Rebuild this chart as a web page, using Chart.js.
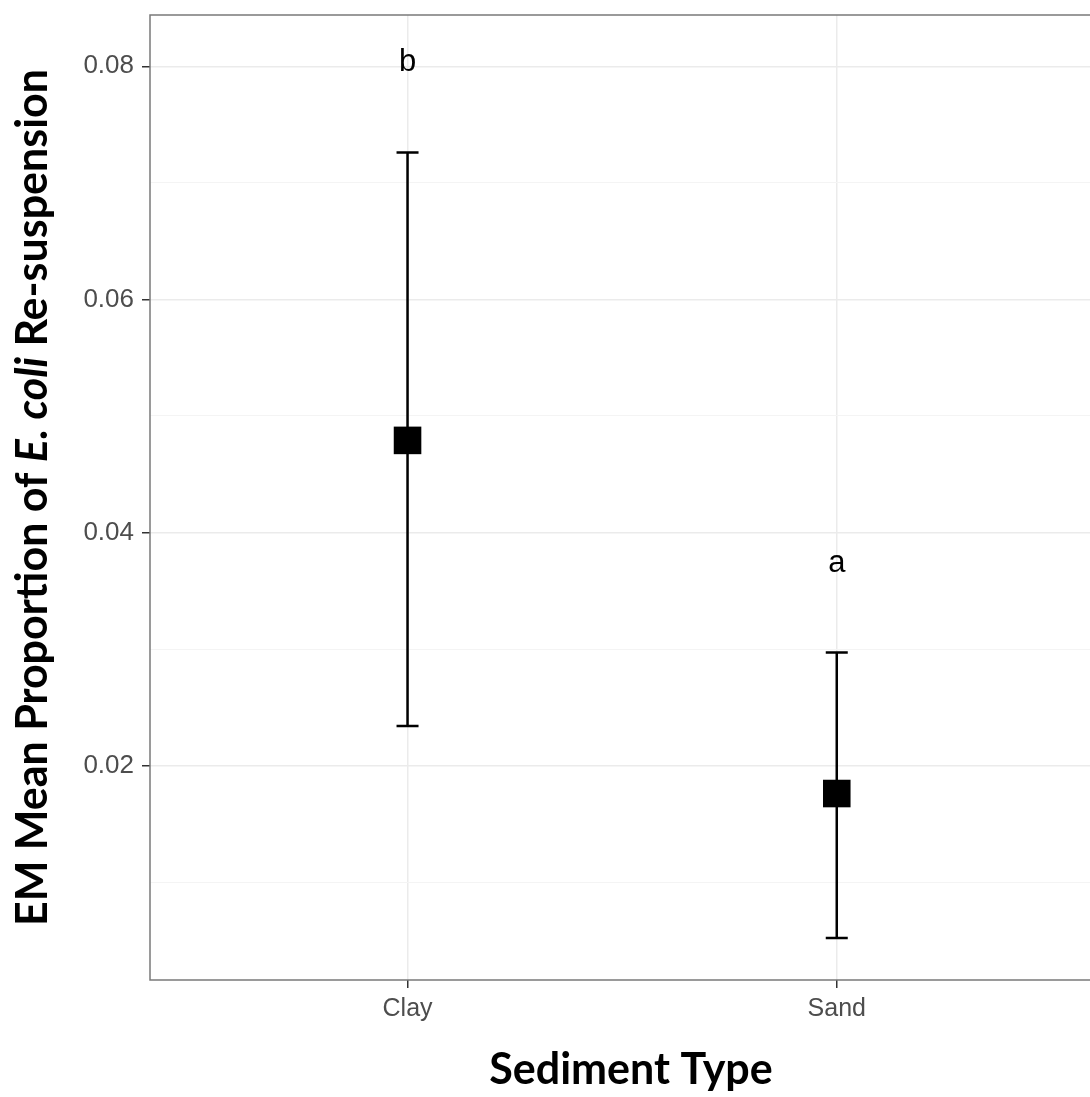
<!DOCTYPE html>
<html>
<head>
<meta charset="utf-8">
<script src="https://cdn.jsdelivr.net/npm/chart.js@4.4.1/dist/chart.umd.min.js"></script>
<style>
  html, body { margin: 0; padding: 0; background: #fff; }
  canvas { display: block; }
</style>
</head>
<body>
<canvas id="myChart" width="1090" height="1097"></canvas>
<script>
// values
const categories = ['Clay', 'Sand'];
const means = [0.0479, 0.0176];
const upper = [0.0726, 0.0297];
const lower = [0.0234, 0.0052];
const letters = ['b', 'a'];
const letterY = [0.0803, 0.0373];
const yMajor = [0.02, 0.04, 0.06, 0.08];
const yGrid = [0.01, 0.02, 0.03, 0.04, 0.05, 0.06, 0.07, 0.08];
const yTitleParts = [['EM Mean Proportion of ', ''], ['E. coli', 'italic '], [' Re-suspension', '']];
const xTitle = 'Sediment Type';

const isMajor = v => yMajor.some(m => Math.abs(m - v) < 1e-9);
const noPad = s => { s.paddingTop = 0; s.paddingBottom = 0; s.paddingLeft = 0; s.paddingRight = 0; };

// panel border (left, top, bottom), error bars and letters
const extras = {
    id: 'extras',
    beforeDatasetsDraw(chart) {
        const { ctx, scales: { x, y } } = chart;
        ctx.save();
        ctx.strokeStyle = '#000';
        ctx.lineWidth = 2.5;
        categories.forEach((c, i) => {
            const px = x.getPixelForValue(i + 1);
            const top = y.getPixelForValue(upper[i]);
            const bot = y.getPixelForValue(lower[i]);
            ctx.beginPath();
            ctx.moveTo(px, top); ctx.lineTo(px, bot);
            ctx.moveTo(px - 11, top); ctx.lineTo(px + 11, top);
            ctx.moveTo(px - 11, bot); ctx.lineTo(px + 11, bot);
            ctx.stroke();
        });
        ctx.restore();
    },
    afterDatasetsDraw(chart) {
        const { ctx, chartArea: a, scales: { x, y } } = chart;
        ctx.save();
        ctx.fillStyle = '#000';
        ctx.font = '31px "Liberation Sans", Arial, sans-serif';
        ctx.textAlign = 'center';
        ctx.textBaseline = 'middle';
        letters.forEach((l, i) => {
            ctx.fillText(l, x.getPixelForValue(i + 1), y.getPixelForValue(letterY[i]));
        });
        // border
        ctx.strokeStyle = '#7a7a7a';
        ctx.lineWidth = 1.5;
        ctx.beginPath();
        ctx.moveTo(a.right + 2, a.top);
        ctx.lineTo(a.left, a.top);
        ctx.lineTo(a.left, a.bottom);
        ctx.lineTo(a.right + 2, a.bottom);
        ctx.stroke();
        ctx.restore();
    },
    afterDraw(chart) {
        const { ctx, chartArea: a } = chart;
        ctx.save();
        ctx.fillStyle = '#000';
        ctx.textBaseline = 'middle';
        // x title
        ctx.font = 'bold 43px Lato, "Open Sans", sans-serif';
        ctx.textAlign = 'center';
        ctx.fillText(xTitle, 631, 1070);
        // y title, rotated, with italic part
        ctx.translate(33, (a.top + a.bottom) / 2);
        ctx.rotate(-Math.PI / 2);
        ctx.textAlign = 'left';
        const fonts = yTitleParts.map(p => p[1] + 'bold 43px Lato, "Open Sans", sans-serif');
        let total = 0;
        yTitleParts.forEach((p, i) => { ctx.font = fonts[i]; total += ctx.measureText(p[0]).width; });
        let cx = -total / 2;
        yTitleParts.forEach((p, i) => {
            ctx.font = fonts[i];
            ctx.fillText(p[0], cx, 0);
            cx += ctx.measureText(p[0]).width;
        });
        ctx.restore();
    }
};

const ctx = document.getElementById('myChart').getContext('2d');
new Chart(ctx, {
    type: 'scatter',
    data: {
        datasets: [{
            data: means.map((m, i) => ({ x: i + 1, y: m })),
            pointStyle: 'rect',
            pointRadius: 19.5,
            pointHoverRadius: 19.5,
            backgroundColor: '#000',
            borderColor: '#000',
            borderWidth: 0
        }]
    },
    options: {
        responsive: false,
        animation: false,
        devicePixelRatio: 1,
        layout: { autoPadding: false, padding: { top: 15, right: 0, left: 0, bottom: 0 } },
        plugins: { legend: { display: false }, tooltip: { enabled: false } },
        scales: {
            x: {
                type: 'linear',
                min: 0.4,
                max: 2.59,
                afterBuildTicks: s => { s.ticks = categories.map((c, i) => ({ value: i + 1 })); },
                afterFit: s => { s.height = 117; noPad(s); },
                ticks: {
                    callback: v => categories[v - 1],
                    color: '#4d4d4d',
                    font: { family: '"Liberation Sans", Arial, sans-serif', size: 25 },
                    padding: 6,
                    maxRotation: 0
                },
                grid: { color: '#ebebeb', lineWidth: 1.5, tickColor: '#333', tickLength: 8 },
                border: { display: false }
            },
            y: {
                min: 0.0016,
                max: 0.0844,
                afterBuildTicks: s => { s.ticks = yGrid.map(v => ({ value: v })); },
                afterFit: s => { s.width = 150; noPad(s); },
                ticks: {
                    callback: v => isMajor(v) ? v.toFixed(2) : '',
                    color: '#4d4d4d',
                    font: { family: '"Liberation Sans", Arial, sans-serif', size: 26 },
                    padding: 8
                },
                grid: {
                    color: c => isMajor(c.tick.value) ? '#ebebeb' : '#f4f4f4',
                    lineWidth: c => isMajor(c.tick.value) ? 1.5 : 1,
                    tickColor: c => isMajor(c.tick.value) ? '#333' : 'rgba(0,0,0,0)',
                    tickLength: 8
                },
                border: { display: false }
            }
        }
    },
    plugins: [extras]
});
</script>
</body>
</html>
